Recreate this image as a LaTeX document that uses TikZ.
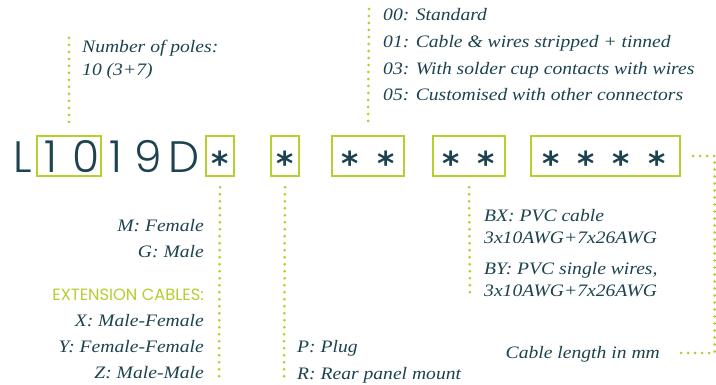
\documentclass[tikz,border=0pt]{standalone}
\usepackage{fontspec}
\setmainfont{Liberation Serif}
\newfontfamily\itfont{Liberation Serif Italic}[FakeStretch=1.12]
\newfontfamily\codefont{Poppins Light}
\newfontfamily\capfont{Poppins}
\newfontfamily\astfont{DejaVu Sans Bold}
\definecolor{lime}{HTML}{B5CF2E}
\definecolor{ink}{HTML}{1C434F}
\begin{document}
\begin{tikzpicture}[x=1pt,y=-1pt,
  codebox/.style={draw=lime, line width=2pt, rectangle, minimum height=40.5pt, inner sep=0pt},
  dotline/.style={draw=lime, line width=3pt, line cap=round, dash pattern=on 0pt off 7pt},
  desc/.style={text=ink, font=\itfont\fontsize{17.5}{20}\selectfont, inner sep=0pt},
  codechar/.style={text=ink, font=\codefont\fontsize{44}{44}\selectfont, inner sep=0pt, anchor=base},
  ast/.style={text=ink, font=\astfont\fontsize{33}{33}\selectfont, inner sep=0pt, anchor=base},
  captext/.style={text=lime, font=\capfont\fontsize{16.3}{18}\selectfont, inner sep=0pt}]
\fill[white] (0,0) rectangle (716,385);
\useasboundingbox (0,0) rectangle (716,385);

% boxes
\node[codebox, minimum width=64pt] (b1) at (69,156) {};
\node[codebox, minimum width=28pt] (b2) at (220,156) {};
\node[codebox, minimum width=28pt] (b3) at (285,156) {};
\node[codebox, minimum width=72pt] (b4) at (368,156) {};
\node[codebox, minimum width=72pt] (b5) at (469,156) {};
\node[codebox, minimum width=149pt] (b6) at (605.5,156) {};

% code letters
\node[codechar] (cL) at (23,173) {L};
\node[codechar] (c1) at (51,173) {1};
\node[codechar] (c0) at (86,173) {0};
\node[codechar] (c1b) at (116,173) {1};
\node[codechar] (c9) at (148,173) {9};
\node[codechar] (cD) at (184,173) {D};

% asterisks
\node[ast] (a1) at (220,175.3) {*};
\node[ast] (a2) at (285,175.3) {*};
\node[ast] (a3) at (350,175.3) {*};
\node[ast] (a4) at (385.7,175.3) {*};
\node[ast] (a5) at (451,175.3) {*};
\node[ast] (a6) at (485.7,175.3) {*};
\node[ast] (a7) at (550.7,175.3) {*};
\node[ast] (a8) at (585.7,175.3) {*};
\node[ast] (a9) at (621,175.3) {*};
\node[ast] (a10) at (656.7,175.3) {*};

% texts
\node[desc, anchor=base west] (np1) at (82,52.3) {Number of poles:};
\node[desc, anchor=base west] (np2) at (82,76) {10 (3+7)};

\node[desc, anchor=base west] (t1) at (383,21) {00: Standard};
\node[desc, anchor=base west] (t2) at (383,47.7) {01: Cable \& wires stripped + tinned};
\node[desc, anchor=base west] (t3) at (383,74.3) {03: With solder cup contacts with wires};
\node[desc, anchor=base west] (t4) at (383,101) {05: Customised with other connectors};

\node[desc, anchor=base east] (m1) at (204,232) {M: Female};
\node[desc, anchor=base east] (g1) at (204,257.7) {G: Male};
\node[captext, anchor=base east] (ext) at (204,301) {EXTENSION CABLES:};
\node[desc, anchor=base east] (x1) at (204,326.7) {X: Male-Female};
\node[desc, anchor=base east] (y1) at (204,352.7) {Y: Female-Female};
\node[desc, anchor=base east] (z1) at (204,378.5) {Z: Male-Male};

\node[desc, anchor=base west] (p1) at (297,352.7) {P: Plug};
\node[desc, anchor=base west] (r1) at (297,379) {R: Rear panel mount};

\node[desc, anchor=base west] (bx1) at (484,221.7) {BX: PVC cable};
\node[desc, anchor=base west] (bx2) at (484,243.3) {3x10AWG+7x26AWG};
\node[desc, anchor=base west] (by1) at (484,275) {BY: PVC single wires,};
\node[desc, anchor=base west] (by2) at (484,296.7) {3x10AWG+7x26AWG};

\node[desc, anchor=base east] (cl) at (660,358.3) {Cable length in mm};

% dotted connectors
\coordinate (e1) at (69,38);
\draw[dotline] (e1) -- ([yshift=10pt]b1.north);
\coordinate (e2) at (369,9);
\draw[dotline] (e2) -- ([yshift=10pt]b4.north);
\coordinate (e3) at (219,378);
\draw[dotline] ([yshift=-10pt]b2.south) -- (e3);
\coordinate (e4) at (284,378);
\draw[dotline] ([yshift=-10pt]b3.south) -- (e4);
\coordinate (e5) at (470,298);
\draw[dotline] ([yshift=-10pt]b5.south) -- (e5);
\coordinate (cr1) at (714.5,156);
\coordinate (cr2) at (714.5,353);
\coordinate (clend) at ([xshift=15pt]cl.east);
\draw[dotline] ([xshift=12pt]b6.east) -- (cr1) -- (cr2) -- (clend |- cr2);
\end{tikzpicture}
\end{document}
